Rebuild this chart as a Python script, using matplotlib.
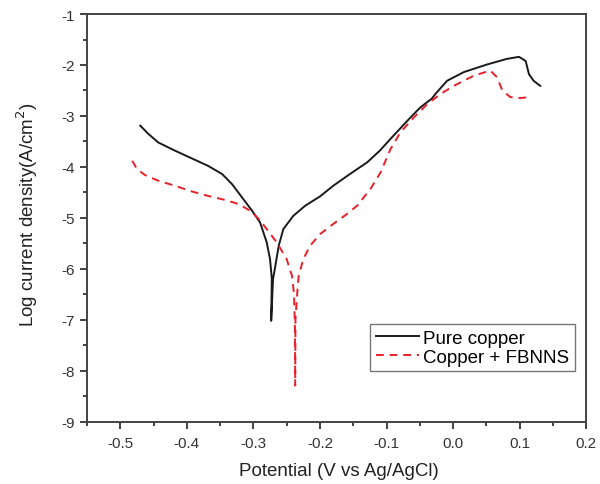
import matplotlib
matplotlib.use("Agg")
import matplotlib.pyplot as plt
from matplotlib.ticker import MultipleLocator

plt.rcParams['font.family'] = ['Liberation Sans', 'DejaVu Sans']

# Pure copper (potential V, log current density)
pure_v = [-0.470, -0.458, -0.443, -0.418, -0.393, -0.368, -0.347, -0.332, -0.317,
          -0.302, -0.290, -0.280, -0.275, -0.2723, -0.2733, -0.2705, -0.267, -0.262,
          -0.255, -0.240, -0.222, -0.200, -0.180, -0.155, -0.129, -0.110, -0.094,
          -0.079, -0.064, -0.049, -0.032, -0.026, -0.009, 0.016, 0.051, 0.081,
          0.099, 0.109, 0.114, 0.121, 0.131]
pure_l = [-3.19, -3.35, -3.52, -3.68, -3.83, -3.98, -4.14, -4.34, -4.60,
          -4.86, -5.09, -5.48, -5.81, -6.20, -7.02, -6.20, -5.94, -5.55,
          -5.22, -4.96, -4.76, -4.58, -4.37, -4.14, -3.91, -3.68, -3.45,
          -3.24, -3.03, -2.83, -2.66, -2.56, -2.31, -2.14, -1.99, -1.88,
          -1.84, -1.92, -2.18, -2.31, -2.41]

# Copper + FBNNS
fb_v = [-0.482, -0.475, -0.463, -0.443, -0.418, -0.393, -0.368, -0.342, -0.322,
        -0.305, -0.292, -0.280, -0.265, -0.250, -0.242, -0.239, -0.2375, -0.2372,
        -0.2368, -0.234, -0.232, -0.225, -0.215, -0.200, -0.177, -0.160, -0.144,
        -0.124, -0.109, -0.094, -0.079, -0.059, -0.039, -0.019, 0.001, 0.031,
        0.056, 0.066, 0.074, 0.086, 0.101, 0.116]
fb_l = [-3.88, -4.04, -4.16, -4.27, -4.37, -4.48, -4.57, -4.65, -4.73,
        -4.86, -5.02, -5.22, -5.48, -5.81, -6.14, -6.50, -7.18, -8.29,
        -7.00, -6.45, -6.14, -5.81, -5.55, -5.32, -5.09, -4.93, -4.76,
        -4.43, -4.11, -3.65, -3.32, -3.03, -2.77, -2.57, -2.41, -2.21,
        -2.11, -2.24, -2.50, -2.63, -2.65, -2.63]

fig = plt.figure(figsize=(6, 4.85), dpi=100)
ax = fig.add_axes([0.145, 0.1285, 0.832, 0.8405])

ax.plot(pure_v, pure_l, color='#1a1a1a', lw=1.4, label='Pure copper')
ax.plot(fb_v, fb_l, color='#e8202a', lw=1.4, ls=(0, (4, 3)), label='Copper + FBNNS')

ax.set_xlim(-0.55, 0.2)
ax.set_ylim(-9, -1)
ax.xaxis.set_minor_locator(MultipleLocator(0.05))
ax.yaxis.set_minor_locator(MultipleLocator(0.5))
ax.set_xticks([-0.5, -0.4, -0.3, -0.2, -0.1, 0.0, 0.1, 0.2])
ax.set_xticklabels(['-0.5', '-0.4', '-0.3', '-0.2', '-0.1', '0.0', '0.1', '0.2'])
ax.set_yticks([-9, -8, -7, -6, -5, -4, -3, -2, -1])
ax.set_yticklabels(['-9', '-8', '-7', '-6', '-5', '-4', '-3', '-2', '-1'])

ax.tick_params(which='both', direction='out', top=False, right=False,
               colors='#333333', labelcolor='#333333', labelsize=11, width=1.3)
ax.tick_params(which='major', length=5)
ax.tick_params(which='minor', length=3)
ax.tick_params(axis='x', pad=5)
for s in ax.spines.values():
    s.set_linewidth(1.4)
    s.set_color('#444444')

ax.set_xlabel('Potential (V vs Ag/AgCl)', fontsize=13.5, color='#222222')
ax.set_ylabel('Log current density(A/cm$^2$)', fontsize=13.5, color='#222222')
ax.xaxis.set_label_coords(0.504, -0.099)
ax.yaxis.set_label_coords(-0.094, 0.51)

leg = ax.legend(loc='lower right', bbox_to_anchor=(0.977, 0.124), fontsize=13.5,
                frameon=True, fancybox=False, edgecolor='#555555',
                handlelength=2.3, handletextpad=0.2, borderpad=0.3, labelspacing=0.1,
                borderaxespad=0.0)
leg.get_frame().set_linewidth(1.0)

fig.savefig('out.png', dpi=100)
